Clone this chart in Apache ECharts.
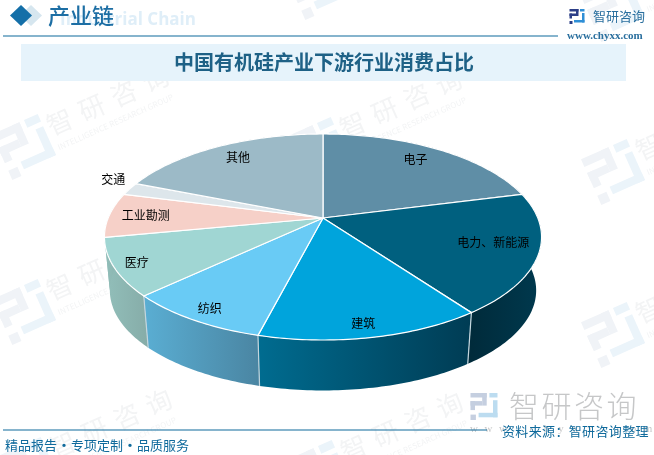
<!DOCTYPE html>
<html>
<head>
<meta charset="utf-8">
<title>中国有机硅产业下游行业消费占比</title>
<script src="https://cdn.jsdelivr.net/npm/echarts@6/dist/echarts.min.js"></script>
<style>
  html, body { margin: 0; padding: 0; background: #fff; }
  #main { width: 654px; height: 455px; }
</style>
</head>
<body>
<div id="main"></div>
<script>
// values, clockwise from 12 o'clock
const sliceNames = ['电子', '电力、新能源', '建筑', '纺织', '医疗', '工业勘测', '交通', '其他'];
const sliceValues = [21, 19, 14, 9, 9, 7, 2, 19];

const topColors = ['#5f8ea6', '#00607f', '#00a4dc', '#69cbf5', '#a0d6d3', '#f6d0c8', '#dde6eb', '#9cbac7'];
const sideFrom = ['#4a7388', '#002a3a', '#006c90', '#5aaed3', '#92bfba', '#92bfba', '#b8c6cc', '#7f9aa6'];
const sideTo = ['#4a7388', '#00394e', '#003c54', '#4a85a2', '#86aca8', '#86aca8', '#b8c6cc', '#7f9aa6'];
const labelRadius = [0.81, 0.8, 0.9, 0.89, 0.9, 0.83, 1.135, 0.82];
const labelNudgeX = [-3, 0, -3, 0, 0, 0, 8, 3];
const labelNudgeY = [-2, -4, 0, 2, 0, 0, -6, -1];

const chartTitle = '中国有机硅产业下游行业消费占比';
const FONT = '"Noto Sans CJK SC", "Noto Sans", sans-serif';

// perspective disc: top face and the smaller bottom face
const TILT = 0.1845;
const topFace = { cx: 323, cy: 218, a: 214.8, b: 99.5 };
const bottomFace = { cx: 323, cy: 272, a: 209.5, b: 96.6 };

const total = sliceValues.reduce((s, v) => s + v, 0);
const startAngles = [];
sliceValues.reduce((s, v, i) => { startAngles[i] = s / total * 360; return s + v; }, 0);

function project(face, deg, r) {
  const t = deg * Math.PI / 180;
  const u = r * Math.sin(t), v = -r * Math.cos(t);
  const w = 1 - TILT * v;
  return [face.cx + face.a * u / w, face.cy + face.b * v / w];
}

function rimPoints(face, a0, a1) {
  const pts = [];
  const n = Math.max(2, Math.ceil(a1 - a0));
  for (let i = 0; i <= n; i++) pts.push(project(face, a0 + (a1 - a0) * i / n, 1));
  return pts;
}

function sliceSpan(params, api) {
  const a0 = startAngles[params.dataIndex];
  return [a0, a0 + api.value(0) / total * 360];
}

function renderSide(params, api) {
  const i = params.dataIndex;
  const [a0, a1] = sliceSpan(params, api);
  const pts = rimPoints(topFace, a0, a1).concat(rimPoints(bottomFace, a0, a1).reverse());
  const children = [{
    type: 'polygon',
    shape: { points: pts },
    style: {
      fill: new echarts.graphic.LinearGradient(0, 0, 1, 0, [
        { offset: 0, color: sideFrom[i] },
        { offset: 1, color: sideTo[i] }
      ])
    }
  }];
  // only the seams on the front of the disc can be seen
  if (a0 > 90 && a0 < 250) {
    const p = project(topFace, a0, 1), q = project(bottomFace, a0, 1);
    children.push({
      type: 'line',
      shape: { x1: p[0], y1: p[1], x2: q[0], y2: q[1] },
      style: { stroke: '#c4d6de', lineWidth: 1.2 }
    });
  }
  return { type: 'group', children: children };
}

function renderTop(params, api) {
  const [a0, a1] = sliceSpan(params, api);
  const pts = [[topFace.cx, topFace.cy]].concat(rimPoints(topFace, a0, a1));
  return {
    type: 'polygon',
    shape: { points: pts },
    style: { fill: topColors[params.dataIndex], stroke: '#fff', lineWidth: 1.2, lineJoin: 'round' }
  };
}

function renderLabel(params, api) {
  const i = params.dataIndex;
  const [a0, a1] = sliceSpan(params, api);
  const p = project(topFace, (a0 + a1) / 2, labelRadius[i]);
  return {
    type: 'text',
    style: {
      text: sliceNames[i], x: p[0] + labelNudgeX[i], y: p[1] + labelNudgeY[i], fill: '#000',
      font: '12px ' + FONT, textAlign: 'center', textVerticalAlign: 'middle'
    }
  };
}

// company mark, centred on 0,0 of a 15 unit grid
function logo(size, navy, blue) {
  const k = size / 15;
  const rect = (x, y, w, h, fill) => ({
    type: 'rect',
    shape: { x: (x - 7.5) * k, y: (y - 7.5) * k, width: w * k, height: h * k },
    style: { fill: fill }
  });
  return [
    rect(0, 0, 9, 2.5, navy), rect(6.5, 0, 2.5, 7, navy), rect(0, 4.5, 6.5, 2.5, navy),
    rect(0, 4.5, 2.5, 5, navy), rect(0, 12, 3, 3, navy),
    rect(10.5, 0, 4.5, 2.5, blue), rect(12.5, 4, 2.5, 9.5, blue), rect(4.5, 11, 10.5, 2.5, blue)
  ];
}

function spaced(chars, x, y, step, font, fill) {
  return Array.from(chars).map((c, i) => ({
    type: 'text',
    style: { text: c, x: x + i * step, y: y, font: font, fill: fill, textAlign: 'center', textVerticalAlign: 'middle' }
  }));
}

function text(str, x, y, font, fill, align) {
  return {
    type: 'text', z: 10,
    style: { text: str, x: x, y: y, font: font, fill: fill, textAlign: align || 'left', textVerticalAlign: 'middle' }
  };
}

function watermark(x, y) {
  return {
    type: 'group', x: x, y: y, rotation: 24 * Math.PI / 180, z: 0, silent: true,
    children: logo(50, '#f0f3f7', '#ebf4fa').concat(
      spaced('智研咨询', 42, -9, 35, '26px ' + FONT, '#f3f4f5'),
      [{
        type: 'text',
        style: { text: 'INTELLIGENCE RESEARCH GROUP', x: 30, y: 14, font: '8px ' + FONT, fill: '#f3f4f5', textVerticalAlign: 'middle' }
      }]
    )
  };
}

const watermarkSpots = [
  [25, 147], [25, 312], [28, 470],
  [318, -13], [318, 150], [318, 311], [319, 473],
  [614, 9], [614, 172], [614, 335]
];

const chart = echarts.init(document.getElementById('main'), null, { renderer: 'canvas' });

chart.setOption({
  animation: false,
  backgroundColor: '#fff',
  graphic: {
    elements: watermarkSpots.map(s => watermark(s[0], s[1])).concat([
      // header
      { type: 'polygon', z: 9, shape: { points: [[31, 5], [42, 15.5], [31, 26], [20, 15.5]] }, style: { fill: '#d6e6ef' } },
      { type: 'polygon', z: 10, shape: { points: [[21, 5], [32, 15.5], [21, 26], [10, 15.5]] }, style: { fill: '#146fa8' } },
      text('Industrial Chain', 60, 20, 'bold 17px "Open Sans", sans-serif', '#dfeef8'),
      text('产业链', 48, 16, '500 22px ' + FONT, '#1c6ea4'),
      { type: 'rect', z: 10, shape: { x: 3, y: 35.5, width: 555, height: 1 }, style: { fill: '#0f6a9c' } },
      { type: 'group', x: 577, y: 16.5, z: 10, children: logo(15, '#2c3e87', '#2f8fd6') },
      text('智研咨询', 593, 16, '13px ' + FONT, '#2a6f9e'),
      text('www.chyxx.com', 567, 36, 'bold 11px "Liberation Serif", serif', '#2a6f9e'),
      // title band
      { type: 'rect', z: 1, shape: { x: 21, y: 44, width: 605, height: 37 }, style: { fill: '#e6f3fb' } },
      text(chartTitle, 324, 62.5, 'bold 20px ' + FONT, '#1e6186', 'center'),
      // footer
      { type: 'group', x: 484, y: 406.5, z: 5, children: logo(27, '#c5cfe0', '#bcdcf0') },
      { type: 'group', z: 5, children: spaced('智研咨询', 524, 406, 32.5, '300 30px ' + FONT, '#c6c7c8') },
      { type: 'group', z: 5, children: spaced('www.chyxx.com', 474, 429, 14.5, '11px "Liberation Serif", serif', '#c6c7c8') },
      { type: 'rect', z: 10, shape: { x: 3, y: 429.5, width: 484, height: 1 }, style: { fill: '#0f6a9c' } },
      text('精品报告', 5, 445, '13px ' + FONT, '#0f6a9c'),
      text('·', 64, 445, 'bold 13px ' + FONT, '#0f6a9c', 'center'),
      text('专项定制', 71, 445, '13px ' + FONT, '#0f6a9c'),
      text('·', 130, 445, 'bold 13px ' + FONT, '#0f6a9c', 'center'),
      text('品质服务', 137, 445, '13px ' + FONT, '#0f6a9c'),
      { type: 'group', z: 10, children: spaced('资料来源：智研咨询整理', 508.5, 431, 13.35, '13px ' + FONT, '#0f6a9c') }
    ])
  },
  series: [
    {
      type: 'custom', coordinateSystem: 'none', silent: true, z: 2,
      renderItem: renderSide,
      data: sliceValues.map((v, i) => ({ name: sliceNames[i], value: v }))
    },
    {
      type: 'custom', coordinateSystem: 'none', silent: true, z: 3,
      renderItem: renderTop,
      data: sliceValues.map((v, i) => ({ name: sliceNames[i], value: v }))
    },
    {
      type: 'custom', coordinateSystem: 'none', silent: true, z: 4,
      renderItem: renderLabel,
      data: sliceValues.map((v, i) => ({ name: sliceNames[i], value: v }))
    }
  ]
});

window.addEventListener('resize', () => chart.resize());
</script>
</body>
</html>
